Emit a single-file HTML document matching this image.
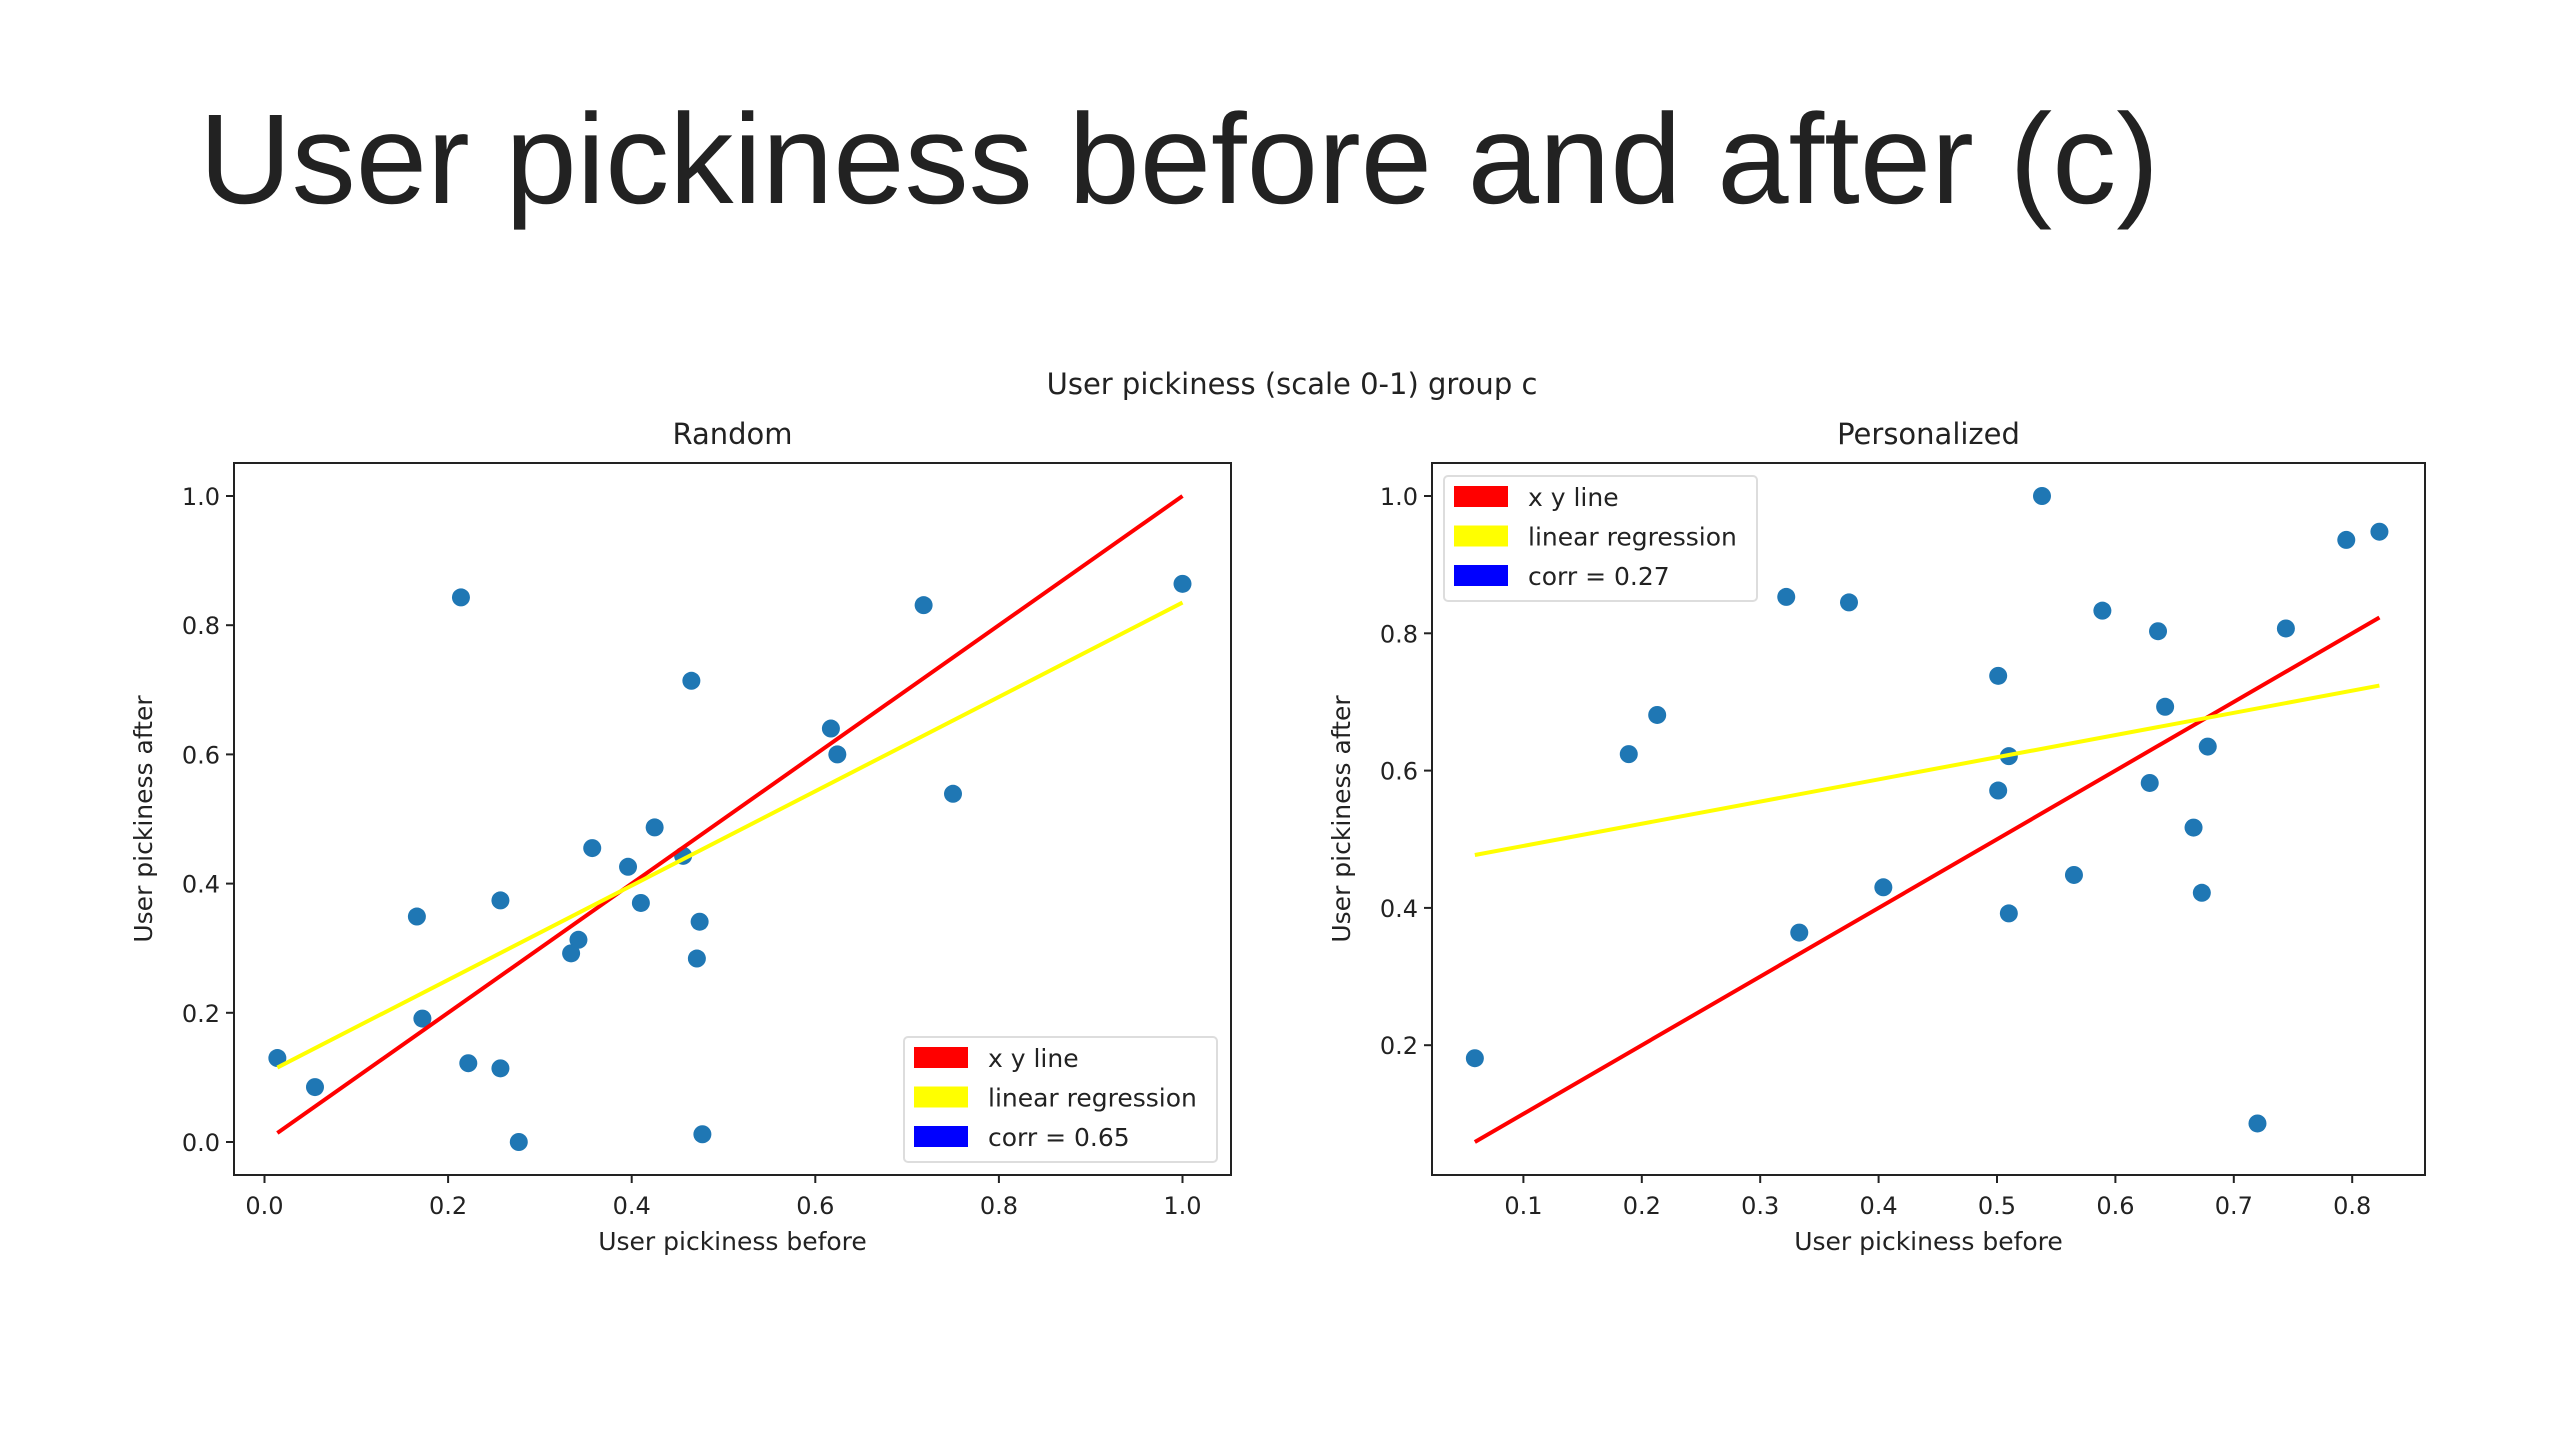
<!DOCTYPE html>
<html><head><meta charset="utf-8"><style>
html,body{margin:0;padding:0;background:#fff;}
svg{display:block;font-family:"DejaVu Sans","Liberation Sans",sans-serif;}
</style></head><body>
<svg id="root" width="2560" height="1440" viewBox="0 0 2560 1440" xmlns="http://www.w3.org/2000/svg">
<text x="199" y="203" font-size="128" fill="#222" font-family="Liberation Sans, sans-serif" textLength="1960" lengthAdjust="spacingAndGlyphs">User pickiness before and after (c)</text>
<text x="1292" y="394" font-size="29" text-anchor="middle" fill="#222">User pickiness (scale 0-1) group c</text>
<g id="left"></g>
<g id="right"></g>
</svg>
<script>
const NS="http://www.w3.org/2000/svg";
// Random panel data
const randomX=[0.214,0.718,1.0,0.465,0.617,0.624,0.75,0.425,0.357,0.396,0.456,0.257,0.166,0.41,0.474,0.342,0.334,0.471,0.172,0.014,0.055,0.222,0.257,0.277,0.477];
const randomY=[0.843,0.831,0.864,0.714,0.640,0.600,0.539,0.487,0.455,0.426,0.443,0.374,0.349,0.370,0.341,0.313,0.292,0.284,0.191,0.130,0.085,0.122,0.114,0.0,0.012];
const randomXTicks=[0.0,0.2,0.4,0.6,0.8,1.0];
const randomYTicks=[0.0,0.2,0.4,0.6,0.8,1.0];
const randomFit=[0.73,0.105];
const randomCorr="0.65";
// Personalized panel data
const persX=[0.538,0.795,0.823,0.322,0.375,0.589,0.636,0.744,0.501,0.213,0.189,0.642,0.510,0.678,0.501,0.629,0.666,0.565,0.404,0.673,0.510,0.333,0.059,0.720];
const persY=[1.0,0.936,0.948,0.853,0.845,0.833,0.803,0.807,0.738,0.681,0.624,0.693,0.621,0.635,0.571,0.582,0.517,0.448,0.430,0.422,0.392,0.364,0.181,0.086];
const persXTicks=[0.1,0.2,0.3,0.4,0.5,0.6,0.7,0.8];
const persYTicks=[0.2,0.4,0.6,0.8,1.0];
const persFit=[0.323,0.458];
const persCorr="0.27";

function mk(parent,tag,attrs,text){const e=document.createElementNS(NS,tag);for(const k in attrs)e.setAttribute(k,attrs[k]);if(text!==undefined)e.textContent=text;parent.appendChild(e);return e;}

function panel(g,cfg){
  const sx=v=>cfg.x0px+(v-cfg.x0v)*cfg.xs;
  const sy=v=>cfg.y0px-(v-cfg.y0v)*cfg.ys;
  let t=mk(g,'text',{x:(cfg.L+cfg.R)/2,y:444,'font-size':29,'text-anchor':'middle',fill:'#222'},cfg.title);
  
  
  cfg.xt.forEach(v=>{
    const l=mk(g,'line',{x1:sx(v),x2:sx(v),y1:cfg.B,y2:cfg.B+8,stroke:'#222','stroke-width':2});
    
    
    const tx=mk(g,'text',{x:sx(v),y:cfg.B+39,'font-size':24,'text-anchor':'middle',fill:'#222'},v.toFixed(1));
    
    
  });
  cfg.yt.forEach(v=>{
    const l=mk(g,'line',{x1:cfg.L-8,x2:cfg.L,y1:sy(v),y2:sy(v),stroke:'#222','stroke-width':2});
    
    
    const tx=mk(g,'text',{x:cfg.L-14,y:sy(v)+9,'font-size':24,'text-anchor':'end',fill:'#222'},v.toFixed(1));
    
    
  });
  const xl=mk(g,'text',{x:(cfg.L+cfg.R)/2,y:1250,'font-size':25,'text-anchor':'middle',fill:'#222'},'User pickiness before');
  
  
  const yc=(cfg.T+cfg.B)/2;
  const yl=mk(g,'text',{x:cfg.ylx,y:yc,'font-size':25,'text-anchor':'middle',fill:'#222',transform:`rotate(-90 ${cfg.ylx} ${yc})`},'User pickiness after');
  
  
  cfg.xs_.forEach((x,i)=>{
    const c=mk(g,'circle',{cx:sx(x),cy:sy(cfg.ys_[i]),r:9,fill:'#1f77b4'});
    
    
  });
  const mn=Math.min(...cfg.xs_), mx=Math.max(...cfg.xs_);
  const xy=mk(g,'line',{x1:sx(mn),y1:sy(mn),x2:sx(mx),y2:sy(mx),stroke:'#ff0000','stroke-width':4});
  
  
  const [a,b]=cfg.fit;
  const rg=mk(g,'line',{x1:sx(mn),y1:sy(a*mn+b),x2:sx(mx),y2:sy(a*mx+b),stroke:'#ffff00','stroke-width':4});
  
  
  const fr=mk(g,'rect',{x:cfg.L,y:cfg.T,width:cfg.R-cfg.L,height:cfg.B-cfg.T,fill:'none',stroke:'#222','stroke-width':2});
  
  
  const lg=mk(g,'g',{});
  
  
  const [lx,ly]=cfg.leg;
  mk(lg,'rect',{x:lx,y:ly,width:313,height:125,rx:4,fill:'#fff',stroke:'#ddd','stroke-width':2});
  const items=[['#ff0000','x y line'],['#ffff00','linear regression'],['#0000ff','corr = '+cfg.corr]];
  items.forEach((it,i)=>{
    const ry=ly+21+i*39.5;
    const p=mk(lg,'rect',{x:lx+10,y:ry-11,width:54,height:21,fill:it[0]});
    
    
    const tx=mk(lg,'text',{x:lx+84,y:ry+9,'font-size':25,fill:'#222'},it[1]);
    
    
  });
}
panel(document.getElementById('left'),{title:'Random',L:234,R:1231,T:463,B:1175,x0v:0,x0px:264.5,xs:918,y0v:0,y0px:1142,ys:646,
  xt:randomXTicks,yt:randomYTicks,xs_:randomX,ys_:randomY,fit:randomFit,corr:randomCorr,leg:[904,1037],ylx:152});
panel(document.getElementById('right'),{title:'Personalized',L:1432,R:2425,T:463,B:1175,x0v:0.1,x0px:1523.4,xs:1184,y0v:1.0,y0px:496,ys:686.5,
  xt:persXTicks,yt:persYTicks,xs_:persX,ys_:persY,fit:persFit,corr:persCorr,leg:[1444,476],ylx:1350});
</script>
</body></html>
